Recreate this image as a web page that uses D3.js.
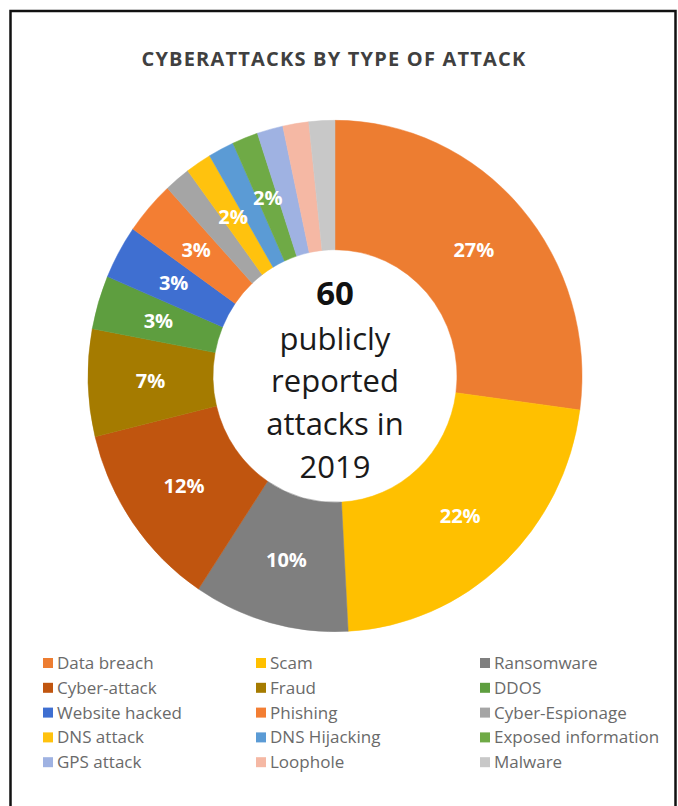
<!DOCTYPE html>
<html>
<head>
<meta charset="utf-8">
<script src="https://cdn.jsdelivr.net/npm/d3@7/dist/d3.min.js"></script>
<style>
  html, body { margin: 0; padding: 0; background: #fff; }
  svg { display: block; }
</style>
</head>
<body>
<svg id="chart" width="678" height="806"></svg>
<script>
// ---- data ----
const categories = ["Data breach", "Scam", "Ransomware", "Cyber-attack", "Fraud", "DDOS",
  "Website hacked", "Phishing", "Cyber-Espionage", "DNS attack", "DNS Hijacking",
  "Exposed information", "GPS attack", "Loophole", "Malware"];
const counts = [16, 13, 6, 7, 4, 2, 2, 2, 1, 1, 1, 1, 1, 1, 1];
const percentLabels = ["27%", "22%", "10%", "12%", "7%", "3%", "3%", "3%", "", "2%", "", "2%", "", "", ""];
const colors = ["#ED7D31", "#FFC000", "#7F7F7F", "#C0550F", "#A57B00", "#5E9E3F",
  "#3F6FD1", "#F37E33", "#A5A5A5", "#FFC20E", "#5B9BD5",
  "#6FAA46", "#9FB2E2", "#F5B8A4", "#C8C8C8"];
const title = "CYBERATTACKS BY TYPE OF ATTACK";
const centerBold = "60";
const centerLines = ["publicly", "reported", "attacks in", "2019"];
const legendColumns = 3;

// ---- layout ----
const svg = d3.select("#chart");
const cx = 335, cy = 376, rOuter = 247, rInner = 122, sy = 1.035;
const font = "'Open Sans', 'Noto Sans', sans-serif";

// border
svg.append("rect")
  .attr("x", 10.5).attr("y", 11).attr("width", 665).attr("height", 820)
  .attr("fill", "none").attr("stroke", "#111").attr("stroke-width", 2.5);

// title
svg.append("text")
  .attr("x", 334).attr("y", 66)
  .attr("text-anchor", "middle")
  .attr("font-family", font).attr("font-weight", 700)
  .attr("font-size", 20).attr("letter-spacing", 1.2)
  .attr("fill", "#404040")
  .text(title);

const data = categories.map((c, i) => ({ name: c, value: counts[i], label: percentLabels[i], color: colors[i] }));
const pie = d3.pie().value(d => d.value).sort(null);
const arcs = pie(data);
const arc = d3.arc().innerRadius(rInner).outerRadius(rOuter);

const g = svg.append("g").attr("transform", `translate(${cx},${cy}) scale(1,${sy})`);
g.selectAll("path").data(arcs).join("path")
  .attr("d", arc)
  .attr("fill", d => d.data.color)
  .attr("stroke", d => d.data.color)
  .attr("stroke-width", 0.5);

// percent labels
svg.append("g").selectAll("text").data(arcs.filter(d => d.data.label)).join("text")
  .attr("x", d => cx + arc.centroid(d)[0])
  .attr("y", d => cy + arc.centroid(d)[1] * sy)
  .attr("dy", "0.35em")
  .attr("text-anchor", "middle")
  .attr("font-family", font).attr("font-weight", 700).attr("font-size", 20)
  .attr("fill", "#fff")
  .text(d => d.data.label);

// center text
svg.append("text")
  .attr("x", cx).attr("y", 305)
  .attr("text-anchor", "middle")
  .attr("font-family", font).attr("font-weight", 700).attr("font-size", 33)
  .attr("fill", "#111")
  .text(centerBold);
const lineY = [350, 392, 435, 478];
svg.append("g").selectAll("text").data(centerLines).join("text")
  .attr("x", cx).attr("y", (d, i) => lineY[i])
  .attr("text-anchor", "middle")
  .attr("font-family", font).attr("font-weight", 400).attr("font-size", 31)
  .attr("fill", "#1a1a1a")
  .text(d => d);

// legend
const colX = [43, 256, 480];
const rowY0 = 663, rowStep = 24.8;
const leg = svg.append("g").selectAll("g").data(data).join("g")
  .attr("transform", (d, i) => `translate(${colX[i % legendColumns]},${rowY0 + Math.floor(i / legendColumns) * rowStep})`);
leg.append("rect")
  .attr("x", 0).attr("y", -5).attr("width", 10).attr("height", 10)
  .attr("fill", d => d.color);
leg.append("text")
  .attr("x", 14).attr("y", 0).attr("dy", "0.35em")
  .attr("font-family", font).attr("font-size", 17)
  .attr("fill", "#6a6a6a")
  .text(d => d.name);
</script>
</body>
</html>
